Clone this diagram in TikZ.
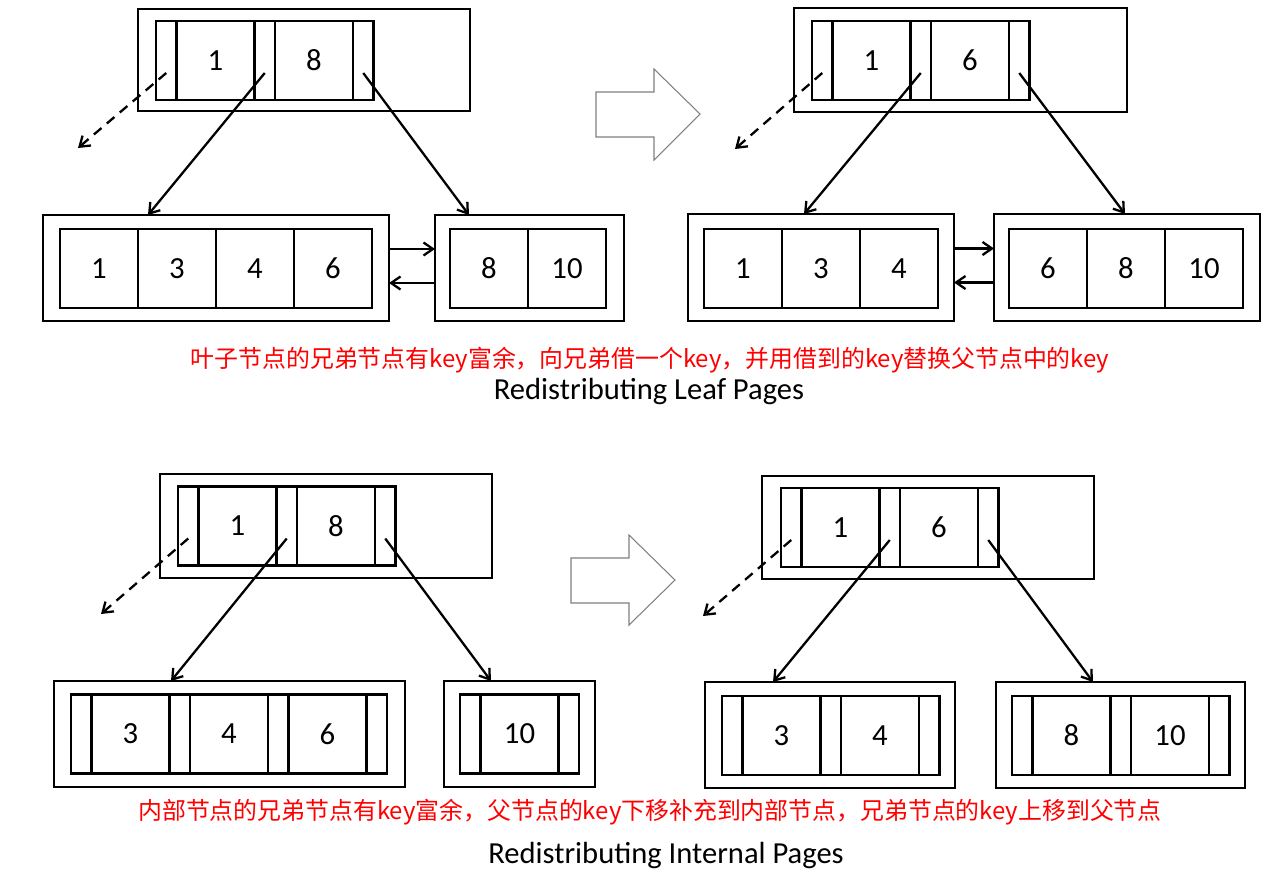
\documentclass[tikz,border=0pt]{standalone}
\usepackage{fontspec}
\setmainfont{Carlito}
\newfontfamily\cjk{Noto Sans CJK SC}
\usetikzlibrary{arrows.meta, calc, fit, positioning}

\begin{document}
\begin{tikzpicture}[x=0.02cm, y=-0.02cm,
  every node/.style={font=\fontsize{17.5}{20}\selectfont},
  page/.style={draw, line width=1.3pt, inner sep=0pt, outer sep=0pt},
  ptr/.style={draw, line width=1.3pt, inner sep=0pt, outer sep=0pt,
              minimum width=0.41cm, minimum height=1.58cm},
  key/.style={draw, line width=1.3pt, inner sep=0pt, outer sep=0pt,
              minimum width=1.56cm, minimum height=1.58cm},
  link/.style={line width=1.3pt, -{Straight Barb[length=1.9mm, width=2.6mm]}},
  nulllink/.style={link, dash pattern=on 2mm off 1.4mm},
  hollow/.style={draw=gray, line width=0.6pt},
  note/.style={text=red, font=\cjk\fontsize{13.6}{16}\selectfont},
  title/.style={font=\fontsize{17.4}{20}\selectfont}]
\useasboundingbox (0,0) rectangle (1280,872);

% outer pages
\foreach \nm/\a/\b/\c/\d in {
  A-par/138/9/470/111, A-left/43/215/389/321, A-right/435/215/624/321,
  B-par/794/8/1127/112, B-left/688/214/954/321, B-right/994/214/1260/321,
  C-par/160/474/492/578, C-left/54/681/405/787, C-right/444/681/595/787,
  D-par/762/476/1094/579, D-left/705/682/955/788, D-right/996/682/1245/788%
}{
  \node[page, fit={(\a,\b) (\c,\d)}] (\nm) {};
}

% inner pages: pointer, key, pointer, ...
\foreach \nm/\x/\y/\keys in {
  A/156/60.5/{1,8}, B/812/60.5/{1,6}, C/178/526/{1,8}, D/781/527.5/{1,6},
  C-l/71/734/{3,4,6}, C-r/460/734/{10}, D-l/722/735.5/{3,4}, D-r/1012/735.5/{8,10}%
}{
  \node[ptr] (\nm-p0) at ({\x+10.25},\y) {};
  \foreach \k [count=\i] in \keys {
    \node[key] (\nm-k\i) at ({\x+20.5+(\i-1)*98.5+39},\y) {\k};
    \node[ptr] (\nm-p\i) at ({\x+\i*98.5+10.25},\y) {};
  }
}

% leaf pages: keys only
\foreach \nm/\x/\y/\keys in {
  A-l/60/268.5/{1,3,4,6}, A-r/450/268.5/{8,10},
  B-l/704/268.5/{1,3,4}, B-r/1009/268.5/{6,8,10}%
}{
  \foreach \k [count=\i] in \keys
    \node[key] (\nm-k\i) at ({\x+(\i-1)*78+39},\y) {\k};
}

% child pointers
\foreach \nm/\lo/\ro/\ex/\ey in {A/105/34/78/148, B/116/131/735/149,
                                 C/117/47/101/614, D/68/97/703/616}{
  \coordinate (\nm-null) at (\ex,\ey);
  \draw[nulllink] ($(\nm-p0)+(0,12.5)$) -- (\nm-null);
  \draw[link] ($(\nm-p1)+(0,12.5)$) -- ($(\nm-left.north west)+(\lo,0)$);
  \draw[link] ($(\nm-p2)+(0,12.5)$) -- ($(\nm-right.north west)+(\ro,0)$);
}

% sibling links
\foreach \nm in {A,B}{
  \draw[link] ($(\nm-left.east)+(0,-19)$) -- ($(\nm-right.west)+(0,-19)$);
  \draw[link] ($(\nm-right.west)+(0,15)$) -- ($(\nm-left.east)+(0,15)$);
}

% hollow arrows
\draw[hollow] (596,92) -- (654,92) -- (654,69) -- (700,114) -- (654,160)
  -- (654,137) -- (596,137) -- cycle;
\draw[hollow] (571,558) -- (629,558) -- (629,535) -- (675,580) -- (629,625)
  -- (629,603) -- (571,603) -- cycle;

% captions
\node[note] (leaf-note) at (650,360)
  {叶子节点的兄弟节点有key富余，向兄弟借一个key，并用借到的key替换父节点中的key};
\node[title] (leaf-title) at (649,392) {Redistributing Leaf Pages};
\node[note] (int-note) at (650,812)
  {内部节点的兄弟节点有key富余，父节点的key下移补充到内部节点，兄弟节点的key上移到父节点};
\node[title] (int-title) at (666,855) {Redistributing Internal Pages};
\end{tikzpicture}
\end{document}
